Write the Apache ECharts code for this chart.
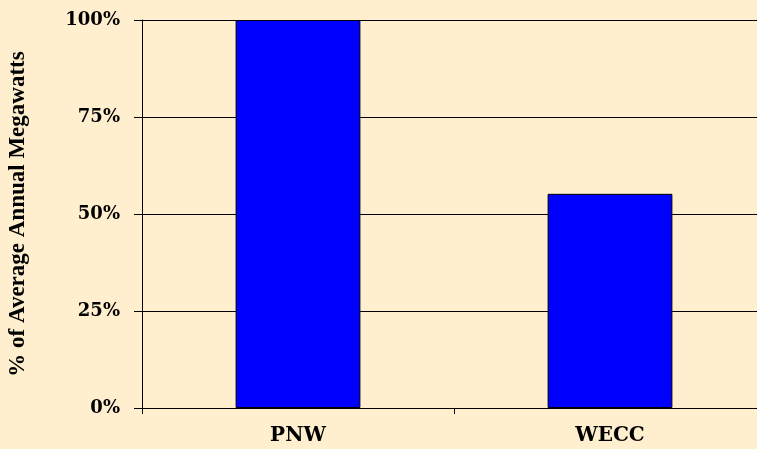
<!DOCTYPE html>
<html><head><meta charset="utf-8">
<script src="https://cdn.jsdelivr.net/npm/echarts@6/dist/echarts.min.js"></script>
<style>html,body{margin:0;padding:0;background:#FFEFCF}#c{width:757px;height:449px}</style>
</head><body><div id="c"></div>
<script>
const categories = ['PNW', 'WECC'];
const values = [100, 55.2];
const yTicks = [0, 25, 50, 75, 100];
const yTitle = '% of Average Annual Megawatts';

const font = 'DejaVu Serif';
const chart = echarts.init(document.getElementById('c'));
chart.setOption({
  backgroundColor: '#FFEFCF',
  animation: false,
  grid: { left: 142, right: -9, top: 20, bottom: 41, containLabel: false, outerBoundsMode: 'none' },
  xAxis: {
    type: 'category', data: categories,
    axisLine: { lineStyle: { color: '#000', width: 1 } },
    axisTick: { show: true, length: 6, lineStyle: { color: '#000' } },
    axisLabel: { color: '#000', fontFamily: font, fontWeight: 'bold', fontSize: 20, margin: 18 }
  },
  yAxis: {
    type: 'value', min: 0, max: 100, interval: 25,
    name: yTitle, nameLocation: 'middle', nameGap: 112, nameRotate: 90,
    nameTextStyle: { color: '#000', fontFamily: 'Liberation Serif', fontWeight: 'bold', fontSize: 23 },
    axisLine: { show: true, lineStyle: { color: '#000', width: 1 } },
    axisTick: { show: true, length: 8, lineStyle: { color: '#000' } },
    splitLine: { show: true, lineStyle: { color: '#000', width: 1 } },
    axisLabel: { color: '#000', fontFamily: font, fontWeight: 'bold', fontSize: 18, margin: 22,
      formatter: v => yTicks.includes(v) ? v + '%' : '' }
  },
  series: [{
    type: 'bar', data: values, barWidth: '40%',
    itemStyle: { color: '#0000FF', borderColor: '#000', borderWidth: 1 }
  }]
});
</script></body></html>
